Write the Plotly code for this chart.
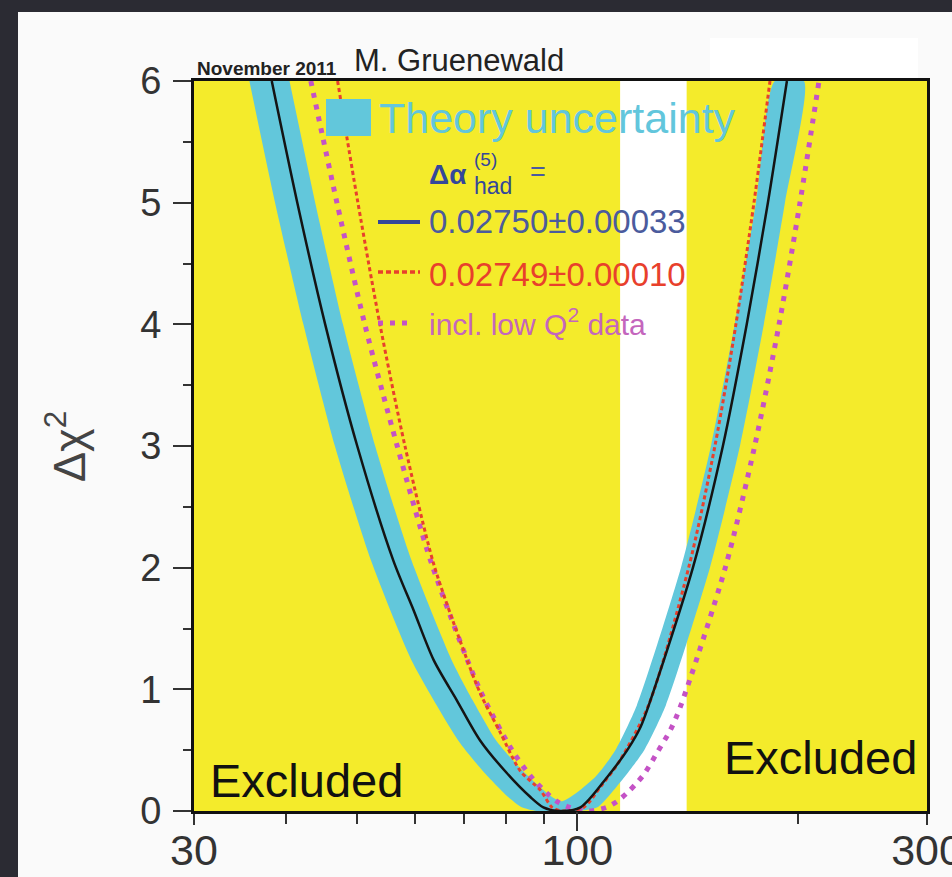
import math
import plotly.graph_objects as go

# ---------------------------------------------------------------
# Δχ² of the electroweak fit versus the Higgs mass (GeV)
# ---------------------------------------------------------------
fit_mh = [38.3, 41.5, 45.3, 50.1, 56.1, 59.8, 63.7, 68.5, 73.7, 80.2, 86.3, 89.9, 94.3,
          101.0, 109.9, 117.0, 122.0, 125.2, 143.8, 158.0, 170.3, 182.0, 193.2]
fit_chi2 = [6.0, 5.0, 4.0, 3.0, 2.06, 1.65, 1.24, 0.91, 0.58, 0.31, 0.115, 0.03, 0.0,
            0.03, 0.28, 0.50, 0.69, 0.87, 2.0, 3.0, 4.0, 5.0, 6.0]

# alternative Δα_had evaluation
alt_mh = [47.1, 50.2, 53.8, 58.2, 63.7, 69.2, 73.7, 78.6, 83.6, 89.1, 92.4, 95.5,
          102.0, 107.6, 113.9, 125.1, 141.9, 154.1, 164.6, 174.2, 183.2]
alt_chi2 = [6.0, 5.0, 4.0, 3.0, 2.03, 1.40, 0.97, 0.64, 0.33, 0.17, 0.03, 0.0,
            0.03, 0.20, 0.40, 0.87, 2.0, 3.0, 4.0, 5.0, 6.0]

# fit including low-Q² data
lowq_mh = [43.3, 47.0, 51.3, 56.8, 63.3, 73.6, 81.5, 86.3, 91.1, 94.3, 97.6, 103.4,
           109.6, 113.4, 117.0, 120.5, 123.6, 128.8, 134.1, 138.5, 159.2, 174.6, 188.5, 201.3, 213.7]
lowq_chi2 = [6.0, 5.0, 4.0, 3.0, 2.03, 1.0, 0.5, 0.29, 0.14, 0.07, 0.03, 0.0,
             0.03, 0.08, 0.15, 0.23, 0.31, 0.49, 0.67, 0.87, 2.0, 3.0, 4.0, 5.0, 6.0]

# theory uncertainty band: lower and upper envelope of Δχ²
band_low_mh = [35.7, 38.7, 42.3, 46.7, 52.3, 59.4, 68.8, 74.8, 80.5, 84.0, 88.0, 100.0,
               106.5, 116.0, 123.4, 132.1, 151.7, 166.7, 179.7, 192.0, 203.8]
band_low_chi2 = [6.0, 5.0, 4.0, 3.0, 2.06, 1.24, 0.58, 0.31, 0.115, 0.03, 0.0, 0.0,
                 0.03, 0.28, 0.50, 0.87, 2.0, 3.0, 4.0, 5.0, 6.0]
band_high_mh = [40.5, 43.9, 47.9, 53.0, 59.4, 67.4, 72.0, 77.5, 84.9, 95.0,
                105.8, 112.7, 120.6, 138.5, 152.2, 164.0, 175.3, 186.0]
band_high_chi2 = [6.0, 5.0, 4.0, 3.0, 2.06, 1.24, 0.91, 0.58, 0.31, 0.08,
                  0.28, 0.50, 0.87, 2.0, 3.0, 4.0, 5.0, 6.0]

# direct search limits (GeV): allowed window between them
lep_limit = 114.4
lhc_limit = 141.0

x_range = [30, 300]
y_range = [0, 6]
x_labels = [30, 100, 300]
x_minor = [40, 50, 60, 70, 80, 90, 200]

FONT = "Liberation Sans, Arial, Helvetica, sans-serif"
YELLOW = "#f4eb2b"
BAND = "#62c7db"
BLACK = "#141414"
RED = "#e8402c"
PINK = "#c452c6"
NAVY = "#34479a"
SLIDE = "#2b2b33"

W, H = 952, 877
L, R, T, B = 194, 25, 81, 66
PW, PH = W - L - R, H - T - B


def px(x):
    return (x - L) / PW


def py(y):
    return (H - B - y) / PH


fig = go.Figure()

# theory band as a closed U-shaped region
fig.add_trace(go.Scatter(
    x=band_low_mh + band_high_mh[::-1],
    y=band_low_chi2 + band_high_chi2[::-1],
    fill="toself", fillcolor=BAND, mode="lines",
    line=dict(width=0, color=BAND, shape="spline", smoothing=0.6),
    hoverinfo="skip"))

fig.add_trace(go.Scatter(x=lowq_mh, y=lowq_chi2, mode="lines",
                         line=dict(color=PINK, width=5, dash="5px,7px",
                                   shape="spline", smoothing=0.8)))
fig.add_trace(go.Scatter(x=alt_mh, y=alt_chi2, mode="lines",
                         line=dict(color=RED, width=3, dash="4px,3px",
                                   shape="spline", smoothing=0.8)))
fig.add_trace(go.Scatter(x=fit_mh, y=fit_chi2, mode="lines",
                         line=dict(color=BLACK, width=2.5, shape="spline", smoothing=0.8)))

# overlay axis carrying only the long decade tick
fig.add_trace(go.Scatter(x=[], y=[], xaxis="x2", yaxis="y"))

shapes = [
    # allowed mass window
    dict(type="rect", xref="x", yref="y", x0=lep_limit, x1=lhc_limit,
         y0=y_range[0], y1=y_range[1], fillcolor="white", line=dict(width=0), layer="below"),
    # slide background around the figure
    dict(type="rect", xref="paper", yref="paper", x0=px(0), x1=px(18), y0=py(H), y1=py(0),
         fillcolor=SLIDE, line=dict(width=0), layer="above"),
    dict(type="rect", xref="paper", yref="paper", x0=px(0), x1=px(W), y0=py(12), y1=py(0),
         fillcolor=SLIDE, line=dict(width=0), layer="above"),
    dict(type="rect", xref="paper", yref="paper", x0=px(710), x1=px(918), y0=py(80), y1=py(38),
         fillcolor="#ffffff", line=dict(width=0), layer="below"),
    # legend samples
    dict(type="rect", xref="paper", yref="paper", x0=px(326), x1=px(371), y0=py(136), y1=py(99),
         fillcolor=BAND, line=dict(width=0), layer="above"),
    dict(type="line", xref="paper", yref="paper", x0=px(378), x1=px(420), y0=py(222), y1=py(222),
         line=dict(color=NAVY, width=4), layer="above"),
    dict(type="line", xref="paper", yref="paper", x0=px(378), x1=px(420), y0=py(272), y1=py(272),
         line=dict(color=RED, width=3.5, dash="5px,3px"), layer="above"),
    dict(type="line", xref="paper", yref="paper", x0=px(378), x1=px(412), y0=py(323), y1=py(323),
         line=dict(color=PINK, width=5, dash="5px,7px"), layer="above"),
]


def note(text, x, y, size, color="#111", xanchor="left", bold=False, angle=0):
    if bold:
        text = "<b>" + text + "</b>"
    return dict(text=text, xref="paper", yref="paper", x=px(x), y=py(y),
                xanchor=xanchor, yanchor="middle", showarrow=False, textangle=angle,
                font=dict(family=FONT, size=size, color=color))


annotations = [
    note("November 2011", 195, 68, 19, "#222", bold=True),
    note("M. Gruenewald", 352, 61, 31, "#222"),
    note("Theory uncertainty", 377, 118, 43, "#62c6dc"),
    note("Δα", 427, 174, 28, "#34479a", bold=True),
    note("(5)", 472, 159, 19, "#34479a"),
    note("had", 472, 186, 23, "#34479a"),
    note("=", 528, 172, 27, "#4a5a9e"),
    note("0.02750±0.00033", 427, 221, 33, "#4b5b9d"),
    note("0.02749±0.00010", 427, 274, 33, RED),
    note("incl. low Q<sup>2</sup> data", 427, 322, 30, "#c466bd"),
    note("Excluded", 208, 780, 47, "#111"),
    note("Excluded", 919, 757, 47, "#111", xanchor="right"),
    note("Δχ<sup>2</sup>", 66, 447, 45, "#444", xanchor="center", angle=-90),
]

axis_common = dict(showline=True, linewidth=3, linecolor="#111", mirror=True,
                   showgrid=False, zeroline=False, ticks="outside",
                   tickcolor="#333", tickwidth=2, automargin=False)

fig.update_layout(
    width=W, height=H, autosize=False,
    margin=dict(l=L, r=R, t=T, b=B, pad=0, autoexpand=False),
    paper_bgcolor="#fafafa", plot_bgcolor=YELLOW,
    showlegend=False,
    font=dict(family=FONT),
    xaxis=dict(type="log", range=[math.log10(x_range[0]), math.log10(x_range[1])],
               tickmode="array", tickvals=x_labels, ticktext=[str(v) for v in x_labels],
               ticklen=11, ticklabelstandoff=-12, ticklabeloverflow="allow",
               tickfont=dict(family=FONT, size=43, color="#333"),
               minor=dict(tickmode="array", tickvals=x_minor, ticks="outside",
                          ticklen=10, tickwidth=2, tickcolor="#333", showgrid=False),
               **axis_common),
    xaxis2=dict(type="log", range=[math.log10(x_range[0]), math.log10(x_range[1])],
                overlaying="x", anchor="y", side="bottom", automargin=False,
                tickmode="array", tickvals=[100], ticks="outside", ticklen=19,
                tickwidth=2, tickcolor="#333", showticklabels=False,
                showline=False, showgrid=False, zeroline=False),
    yaxis=dict(range=y_range, tickmode="array", tickvals=list(range(0, 7)),
               ticklen=18, ticklabelstandoff=4,
               tickfont=dict(family=FONT, size=38, color="#333"),
               minor=dict(dtick=0.5, ticks="outside", ticklen=8, tickwidth=2,
                          tickcolor="#333", showgrid=False),
               **axis_common),
    shapes=shapes,
    annotations=annotations,
)

fig.write_html("out.html")
